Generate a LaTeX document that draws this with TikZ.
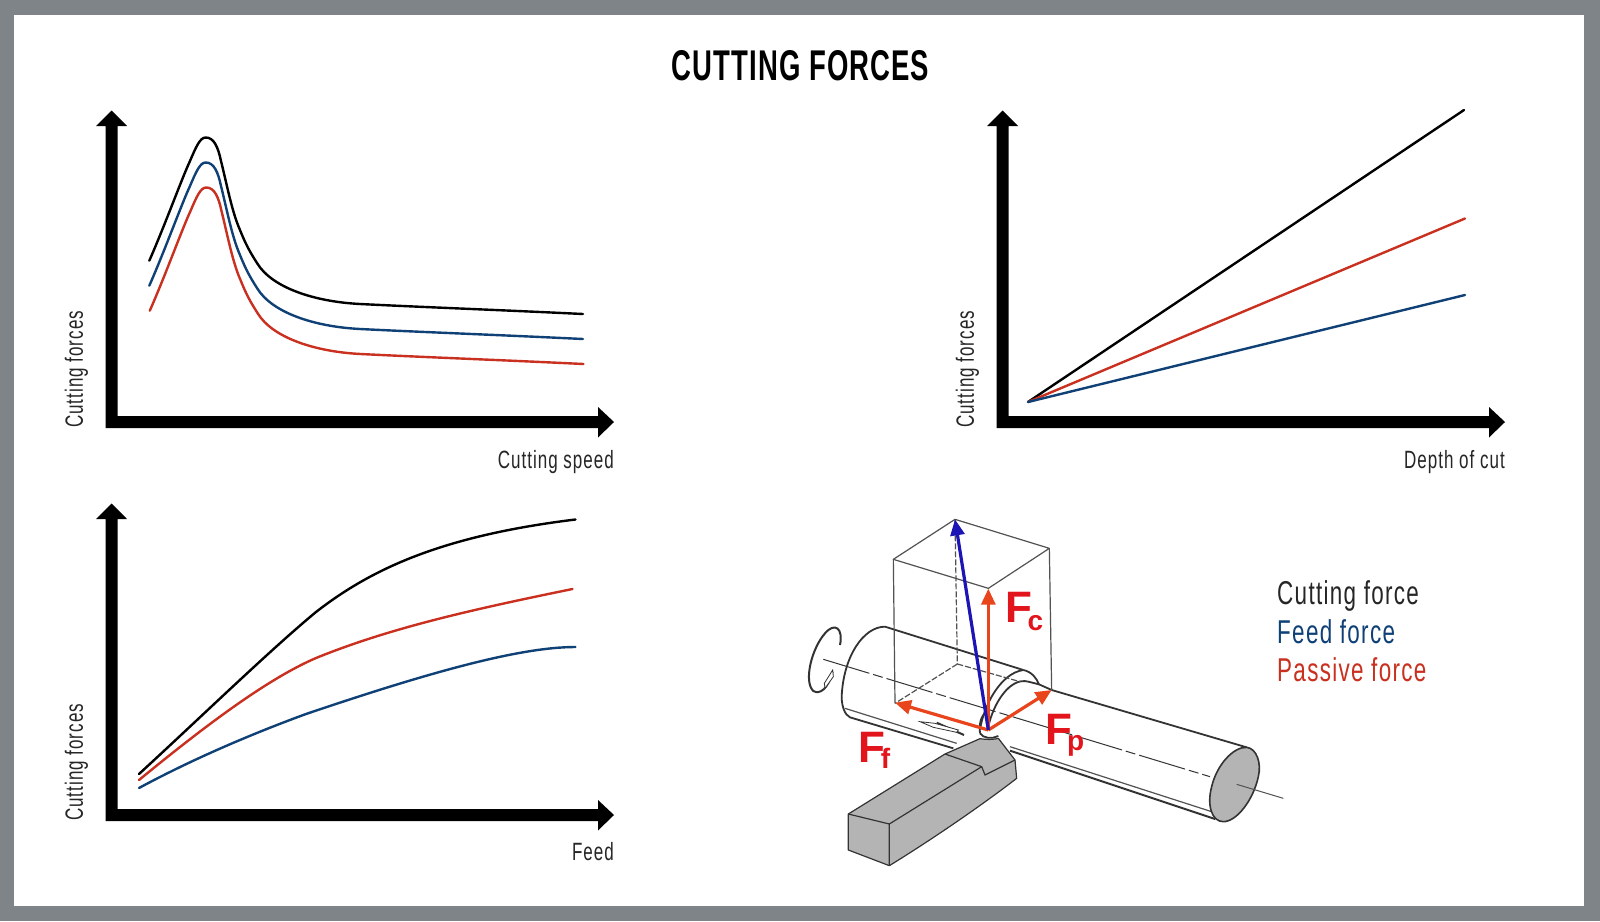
\documentclass[tikz,border=0pt]{standalone}
\usepackage{fontspec}
\setmainfont{Liberation Sans}
\newfontfamily\condf[FakeStretch=0.68,LetterSpace=4]{Liberation Sans}
\newfontfamily\condb[FakeStretch=0.64,LetterSpace=2.5]{Liberation Sans Bold}
\usetikzlibrary{arrows.meta}
\definecolor{framegrey}{HTML}{7F8488}
\definecolor{cblue}{HTML}{0F4176}
\definecolor{cred}{HTML}{C9301F}
\definecolor{forcered}{HTML}{E8451C}
\definecolor{forcelab}{HTML}{E2141C}
\definecolor{forceblue}{HTML}{1C14B4}
\definecolor{toolgrey}{HTML}{B4B4B4}
\definecolor{linegrey}{HTML}{333333}
\tikzset{
 curve/.style={line width=2.4pt,line cap=round,line join=round},
 axlabel/.style={inner sep=0pt,font=\condf\fontsize{25}{28}\selectfont,text=black!85},
 legend/.style={inner sep=0pt,anchor=west,font=\condf\fontsize{33}{36}\selectfont},
 Flab/.style={inner sep=0pt,anchor=base west,text=forcelab,font=\bfseries\fontsize{44}{48}\selectfont},
 sketch/.style={draw=linegrey,line width=1.8pt,line join=round},
 thin sketch/.style={draw=linegrey!85,line width=1.2pt,line join=round},
 force/.style={line width=3.2pt,-{Triangle[length=16pt,width=14pt]}},
}
\newcommand{\axesat}[3]{%
 \begin{scope}[shift={(#1,#2)}]
  \fill[black] (105.7,428) -- (105.7,126) -- (96,126) -- (111.7,110.5) -- (127,126) -- (117.7,126) -- (117.7,416)
     -- (598,416) -- (598,407) -- (614,422) -- (598,437.5) -- (598,428) -- cycle;
  \node[axlabel,rotate=90,anchor=west] (#3) at (76.5,428) {Cutting forces};
 \end{scope}}
\newcommand{\Fsub}[3]{F\kern#2pt\raisebox{-#3pt}{\fontsize{28}{32}\selectfont #1}}
\newcommand{\peakcurve}{(149.3,260.7) .. controls (165,225) and (182,178) .. (190,161) .. controls (196,147) and (200,137.5) .. (205.7,137.5) .. controls (214,137.5) and (218,147) .. (221,161) .. controls (227,185) and (232,212) .. (240,230) .. controls (246,245) and (250,252) .. (257,263) .. controls (272,288) and (315,301.7) .. (360,304) .. controls (420,307) and (500,310) .. (583,314)}
\begin{document}
\begin{tikzpicture}[x=1pt,y=-1pt]
\useasboundingbox (0,0) rectangle (1600,921);
\fill[framegrey] (0,0) rectangle (1600,921);
\fill[white] (13.5,14.5) rectangle (1584,906);
\node[inner sep=0pt,font=\condb\fontsize{43}{46}\selectfont] (title) at (800.5,66) {CUTTING FORCES};

% chart 1
\axesat{0}{0}{ylab1}
\node[axlabel,anchor=east] (xlab1) at (614,462) {Cutting speed};
\draw[curve,black] \peakcurve;
\draw[curve,cblue,shift={(0,25)}] \peakcurve;
\draw[curve,cred,shift={(0.5,50)}] \peakcurve;

% chart 2
\axesat{891}{0}{ylab2}
\node[axlabel,anchor=east] (xlab2) at (1505,462) {Depth of cut};
\coordinate (o2) at (1028,402);
\coordinate (e2k) at (1464,110);
\coordinate (e2r) at (1465,218.5);
\coordinate (e2b) at (1465,295);
\draw[curve,black] (o2) -- (e2k);
\draw[curve,cred] (o2) -- (e2r);
\draw[curve,cblue] (o2) -- (e2b);

% chart 3
\axesat{0}{393}{ylab3}
\node[axlabel,anchor=east] (xlab3) at (614,852) {Feed};
\draw[curve,black] (139,774) .. controls (200,718) and (270,650) .. (316,612) .. controls (370,570) and (440,536) .. (575.5,519.5);
\draw[curve,cred] (139,780) .. controls (200,730) and (265,680) .. (316,658) .. controls (390,628) and (470,610) .. (572.5,589);
\draw[curve,cblue] (139,788) .. controls (200,755) and (265,729) .. (306,714) .. controls (430,672) and (520,647) .. (575.5,647);

% legend
\node[legend,text=black!85] (leg1) at (1277,596) {Cutting force};
\node[legend,text=cblue] (leg2) at (1277,632) {Feed force};
\node[legend,text=cred] (leg3) at (1277,670) {Passive force};

% lathe sketch, in 3x crop coordinates
\begin{scope}[shift={(780,500)},x=0.33333pt,y=-0.33333pt]
 % work piece
 \draw[sketch] (730,510) -- (315,380) .. controls (250,380) and (190,470) .. (185,590) .. controls (185,620) and (195,645) .. (210,652) -- (520,745);
 \draw[thin sketch] (195,625) -- (530,730);
 \draw[sketch] (815,570) -- (1400,742);
 \draw[sketch,line width=2pt] (690,752) -- (1305,957);
 \draw[thin sketch] (690,740) -- (1295,935);
 \draw[sketch] (730,510) .. controls (755,515) and (770,535) .. (777,553) -- (815,570);
 \draw[sketch] (600,690) .. controls (610,620) and (660,520) .. (730,510);
 \draw[sketch] (625,680) .. controls (640,610) and (690,530) .. (745,545) -- (777,553);
 \draw[sketch] (600,700) .. controls (595,660) and (610,640) .. (622,635);
 \draw[sketch] (600,700) .. controls (610,715) and (635,718) .. (655,708);
 % end face
 \filldraw[fill=toolgrey,draw=linegrey,line width=1.6pt] (1400,742) .. controls (1430,745) and (1445,790) .. (1435,830) .. controls (1420,900) and (1370,965) .. (1330,965) .. controls (1295,965) and (1280,915) .. (1295,860) .. controls (1310,795) and (1360,740) .. (1400,742) -- cycle;
 % centre line
 \draw[linegrey,line width=1pt,dash pattern=on 48pt off 4pt on 10pt off 4pt] (130,478) -- (1290,830);
 \draw[linegrey!85,line width=1pt] (1370,853) -- (1510,895);
 % box
 \draw[thin sketch] (340,178) -- (525,58) -- (808,145) -- (625,265) -- cycle;
 \draw[thin sketch] (340,178) -- (345,610);
 \draw[thin sketch] (808,145) -- (815,570);
 \draw[thin sketch,dash pattern=on 6pt off 2pt] (525,58) -- (532,492);
 \draw[thin sketch,dash pattern=on 6pt off 2pt] (532,492) -- (345,610);
 \draw[thin sketch,dash pattern=on 6pt off 2pt] (532,492) -- (720,545);
 % rotation arrow
 \draw[sketch,line width=2pt] (180,435) .. controls (190,385) and (165,365) .. (135,400) .. controls (95,445) and (70,545) .. (100,573) .. controls (120,585) and (145,565) .. (158,515);
 \filldraw[fill=white,draw=linegrey,line width=0.8pt] (158,510) -- (160,530) -- (135,565) -- (133,550) -- cycle;
 % feed arrow
 \draw[sketch,line width=2pt] (470,668) -- (552,705);
 \filldraw[fill=white,draw=linegrey,line width=0.8pt] (420,665) -- (465,670) -- (535,690) -- (530,697) -- (460,682) -- cycle;
 % tool
 \filldraw[fill=toolgrey,draw=linegrey,line width=1.2pt,line join=round]
   (205,942) -- (495,762) -- (600,716) .. controls (625,720) and (645,718) .. (655,715) -- (705,780) -- (710,835) .. controls (600,920) and (450,1022) .. (328,1097) -- (205,1050) -- cycle;
 \draw[sketch,line width=1.2pt] (205,942) -- (328,972) -- (328,1097);
 \draw[sketch,line width=1.2pt] (328,972) -- (605,800) -- (615,825) -- (705,780);
 \draw[sketch,line width=1.2pt] (495,762) -- (605,800);
 % forces
 \coordinate (tip) at (625,690);
 \coordinate (fc) at (625,266);
 \coordinate (ff) at (345,608);
 \coordinate (fp) at (815,570);
 \coordinate (fr) at (525,58);
 \draw[force,forcered] (tip) -- (fc);
 \draw[force,forcered] (tip) -- (ff);
 \draw[force,forcered] (tip) -- (fp);
 \draw[force,forceblue] (tip) -- (fr);
 \node[Flab] (Fc) at (676,368) {\Fsub{c}{-4.7}{8}};
 \node[Flab] (Fp) at (795,733) {\Fsub{p}{-5}{6}};
 \node[Flab] (Ff) at (235,786) {\Fsub{f}{-4.5}{6}};
\end{scope}
\end{tikzpicture}
\end{document}
